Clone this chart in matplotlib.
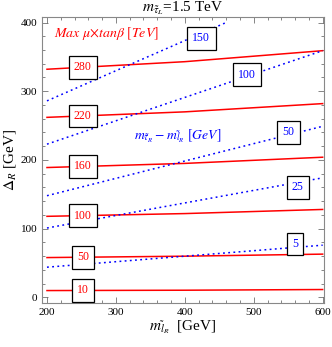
import numpy as np
import matplotlib
matplotlib.use('Agg')
import matplotlib.pyplot as plt
from matplotlib.ticker import MultipleLocator

plt.rcParams['font.family'] = ['Liberation Serif', 'DejaVu Serif']
plt.rcParams['mathtext.fontset'] = 'stix'

# red contours: max mu*tanb [TeV], values at x = 200, 400, 600
x_red = [200, 400, 600]
red_levels = [10, 50, 100, 160, 220, 280]
red_y = [
    [10, 10.5, 11.5],
    [58, 60, 63],
    [118, 122, 128],
    [189, 195, 204],
    [262, 270, 282],
    [332, 343, 359],
]
red_label_x = [252, 252, 252, 252, 252, 252]

# blue dotted contours: m_stau_R - m_l_R [GeV], (x, y) endpoints
blue_levels = [5, 25, 50, 100, 150]
blue_x = [[200, 600], [200, 600], [200, 600], [200, 600], [200, 460]]
blue_y = [[44, 76], [101, 174], [148, 249], [223, 359], [286, 400]]
blue_label_pos = [(560, 78), (564, 160), (550, 240), (490, 324), (424, 377)]

fig = plt.figure(figsize=(3.32, 3.47), dpi=100)
ax = fig.add_axes([0.127, 0.127, 0.849, 0.824])

for lev, ys in zip(red_levels, red_y):
    ax.plot(x_red, ys, color='red', lw=1.1)
for xs, ys in zip(blue_x, blue_y):
    ax.plot(xs, ys, color='blue', lw=1.1, ls=(0, (1.2, 2.2)))

box = dict(boxstyle='square,pad=0.45', fc='white', ec='black', lw=0.9)
for lev, lx, ys in zip(red_levels, red_label_x, red_y):
    ly = np.interp(lx, x_red, ys)
    ax.text(lx, ly, str(lev), color='red', fontsize=8.5, ha='center', va='center', bbox=box)
for lev, (lx, ly) in zip(blue_levels, blue_label_pos):
    ax.text(lx, ly, str(lev), color='blue', fontsize=8.5, ha='center', va='center', bbox=box)

ax.text(210, 384, r'$Max\ \mu{\times}tan\beta\ [TeV]$', color='red', fontsize=10, ha='left', va='center')
ax.text(326, 234, r'$m_{\tilde{\tau}_R}-m_{\tilde{l}_R}\ [GeV]$', color='blue', fontsize=9.8, ha='left', va='center')

ax.set_xlim(193, 602)
ax.set_ylim(-8, 408)
ax.xaxis.set_major_locator(MultipleLocator(100))
ax.xaxis.set_minor_locator(MultipleLocator(20))
ax.yaxis.set_major_locator(MultipleLocator(100))
ax.yaxis.set_minor_locator(MultipleLocator(20))
ax.tick_params(which='both', direction='in', top=True, right=True, labelsize=8, width=0.5, color='#555555')
ax.tick_params(which='major', length=4)
ax.tick_params(which='minor', length=2)
for s in ax.spines.values():
    s.set_color('#888888')
    s.set_linewidth(0.8)

ax.set_title(r'$m_{\tilde{\tau}_L}$=1.5 TeV', fontsize=11, pad=2)
ax.set_xlabel(r'$m_{\tilde{l}_R}$  [GeV]', fontsize=11, labelpad=1)
ax.set_ylabel(r'$\Delta_R$ [GeV]', fontsize=11, labelpad=2)

fig.savefig('out.png', dpi=100)
